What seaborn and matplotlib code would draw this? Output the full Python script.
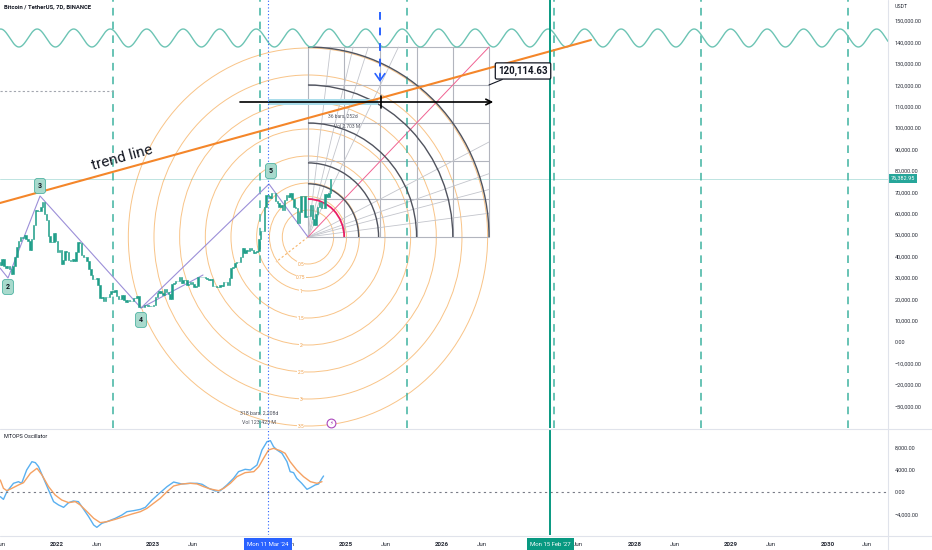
import numpy as np
import pandas as pd
import matplotlib
matplotlib.use("Agg")
import matplotlib.pyplot as plt
import matplotlib.transforms as mtransforms
from matplotlib.lines import Line2D
from matplotlib.patches import Arc, Ellipse
import seaborn as sns

# ===============================
# DATA
# ===============================

week_start = "2021-05-31"
first_open = 37.3
# weekly closes, thousand USDT
closes = [
    35.8, 39.0, 35.5, 34.7, 35.3, 34.3, 31.8, 35.4, 39.9, 44.6, 47.1, 49.0, 48.8, 49.9, 48.3, 47.3,
    43.2, 48.2, 54.9, 61.5, 61.3, 61.3, 63.3, 65.5, 59.7, 57.2, 49.4, 46.7, 46.7, 50.8, 47.3,
    41.9, 43.1, 36.3, 38.2, 42.4, 42.2, 38.4, 37.7, 38.8, 37.8, 42.2, 46.8, 46.4, 40.6, 39.7, 39.5,
    37.7, 34.3, 31.3, 29.4, 29.5, 29.9, 26.6, 20.6, 21.0, 19.3, 20.8, 20.8, 22.6, 23.6, 23.2, 24.3,
    21.5, 20.3, 19.9, 21.8, 19.4, 18.8, 19.4, 19.1, 19.1, 20.6, 20.6, 21.3, 16.3, 16.5, 16.5, 17.1,
    17.1, 16.8, 16.8, 16.6,
    17.1, 20.9, 22.7, 23.7, 22.9, 21.8, 24.6, 23.2, 22.4, 20.3, 26.9, 27.5, 28.5, 28.3, 30.3, 27.6,
    29.2, 28.9, 26.8, 27.1, 28.1, 27.1, 25.9, 26.3, 30.5, 30.2, 30.2, 30.3, 29.8, 29.3, 29.1, 29.4,
    26.1, 26.0, 25.8, 25.8, 26.5, 26.2, 27.9, 27.9, 26.8, 30.0, 34.5, 35.0, 37.1, 37.4, 37.4, 39.5,
    43.8, 41.4, 42.8, 42.3,
    43.9, 42.8, 41.6, 42.0, 42.6, 48.3, 52.1, 51.7, 63.1, 68.9, 68.4, 67.2, 69.7, 69.4, 65.7, 64.9,
    63.1, 64.0, 61.5, 66.3, 68.5, 67.8, 69.6, 66.7, 63.2, 62.7, 55.8, 60.8, 68.2, 68.2, 58.2, 58.7,
    58.9, 64.2, 57.3, 54.8, 60.0, 63.3, 65.6, 62.8, 62.8, 69.0, 67.9, 69.5, 76.38295,
]
last_price = 76382.95

# MTOPS oscillator (weeks after week_start, value)
osc_blue_weeks = [0, 1.8, 3.6, 7.2, 9.9, 11.7, 14.4, 17.2, 19, 20.8, 23.5, 26.2, 28.9, 31.6, 34.3,
                  37, 39.7, 42.4, 45.2, 47.9, 50.6, 52.4, 55.1, 57.8, 62.3, 65.9, 68.6, 72.2, 75.9,
                  78.6, 82.2, 85.8, 90.3, 93.9, 98.4, 102.9, 106.6, 109.3, 112.9, 116.5, 119.2,
                  122.8, 126.4, 129.1, 132.7, 135.5, 139.1, 141.8, 144.5, 146.3, 148.1, 149.9,
                  152.6, 155.3, 157.1, 158.9, 160.7, 163.4, 166.2, 168, 170.7, 172.5, 174.3, 175.2]
osc_blue = [-840, -1320, 60, 1560, 1850, 1560, 3950, 5440, 5260, 4550, 2450, 360, -1730, -2330,
            -2750, -1910, -1620, -1730, -3110, -4430, -5920, -6340, -5620, -5320, -4720, -4130,
            -3530, -3350, -3110, -2750, -1440, -360, 960, 1790, 1440, 1560, 1560, 1380, 660, 180,
            240, 1260, 2450, 3650, 4070, 3950, 4840, 7540, 9030, 9210, 8130, 7540, 6940, 5440,
            3650, 3470, 2450, 1560, 480, 780, 1260, 1440, 2450, 2870]
osc_orange_weeks = [0, 1.8, 3.6, 6.3, 9.9, 12.6, 16.3, 19.9, 22.6, 26.2, 29.8, 33.4, 37, 40.6, 43.3,
                    47, 50.6, 54.2, 57.8, 62.3, 66.8, 71.3, 75.9, 79.5, 83.1, 86.7, 90.3, 93.9,
                    98.4, 102.9, 106.6, 110.2, 113.8, 118.3, 121, 124.6, 128.2, 132.7, 137.3, 140,
                    142.7, 145.4, 148.1, 151.7, 154.4, 157.1, 160.7, 164.3, 168, 171.6, 174.3]
osc_orange = [2150, 660, 240, 660, 1260, 1670, 3350, 4250, 3050, 960, -540, -1440, -1910, -1730,
              -2330, -3530, -4720, -5500, -5320, -4900, -4430, -3950, -3530, -2930, -2030, -1140,
              60, 1080, 1440, 1560, 1440, 960, 540, 240, 660, 1560, 2750, 3470, 3650, 4550, 6040,
              7540, 7830, 7420, 6940, 5440, 3950, 2750, 1850, 1560, 1850]

price_ticks = [150000, 140000, 130000, 120000, 110000, 100000, 90000, 80000, 70000, 60000,
               50000, 40000, 30000, 20000, 10000, 0, -10000, -20000, -30000]
osc_ticks = [8000, 4000, 0, -4000]
# 2024 and 2027 sit under the date boxes in the reference, so they are not listed
time_tick_dates = ["2021-06-01", "2022-01-01", "2022-06-01", "2023-01-01", "2023-06-01",
                   "2024-06-01", "2025-01-01", "2025-06-01", "2026-01-01",
                   "2026-06-01", "2027-06-01", "2028-01-01", "2028-06-01",
                   "2029-01-01", "2029-06-01", "2030-01-01", "2030-06-01"]
time_tick_labels = ["Jun", "2022", "Jun", "2023", "Jun", "Jun", "2025", "Jun", "2026",
                    "Jun", "Jun", "2028", "Jun", "2029", "Jun", "2030", "Jun"]

# drawings (decimal year, price)
wave_labels = ["2", "3", "4", "5"]
wave_x = [2021.408, 2021.491, 2021.824, 2022.872, 2024.201, 2024.606]
wave_y = [34579, 29907, 68224, 15888, 73832, 49065]
wave_label_x = [2021.491, 2021.824, 2022.872, 2024.221]
wave_label_y = [25700, 72900, 10300, 79900]
trend_x = [2021.408, 2027.545]
trend_y = [64953, 141121]
cycle_lines = [2022.582, 2024.108, 2025.634, 2027.161, 2028.687, 2030.213]
gann_x = [2024.606, 2026.486]
gann_y = [49065, 137850]
gann_arcs = [0.28, 0.39, 0.6, 0.8, 1.0]
fib_levels = [0.5, 0.75, 1, 1.5, 2, 2.5, 3, 3.5]
fib_unit = (0.533, 25234)
sine_center, sine_amp, sine_period, sine_peak = 142056, 4200, 0.379, 2021.794
target_price = 120114.63
mar24 = "2024-03-11"
feb27 = "2027-02-15"

XMIN, XMAX = 2021.408, 2030.629
W, H = 932, 550


def to_year(d):
    d = pd.DatetimeIndex(pd.to_datetime(d))
    start = pd.to_datetime(d.year.astype(str) + "-01-01")
    days = np.where(d.is_leap_year, 366, 365)
    return np.asarray(d.year + (d - start).days / days, dtype=float)


def fmt(v):
    s = f"{abs(v):,.2f}"
    return ("\u2212" + s) if v < 0 else s


sns.set_style("white")
plt.rcParams["font.family"] = ["Roboto", "DejaVu Sans"]
TXT = "#2a2e39"

fig = plt.figure(figsize=(W / 100, H / 100), dpi=100)
ax = fig.add_axes([0, (H - 428) / H, 888 / W, 428 / H])
ax_osc = fig.add_axes([0, (H - 535) / H, 888 / W, 105 / H], sharex=ax)

# ===============================
# MAIN PANE
# ===============================

# fib circles
fx, fy = gann_x[0], gann_y[0]
for lv in fib_levels:
    ax.add_patch(Ellipse((fx, fy), 2 * lv * fib_unit[0], 2 * lv * fib_unit[1], fill=False,
                         ec="#f7b56a", lw=0.7, alpha=0.8, zorder=1))
    ax.text(fx - 0.075, fy - lv * fib_unit[1], f"{lv:g}", fontsize=3.5, color="#f0a04b",
            ha="center", va="center", zorder=2,
            bbox=dict(boxstyle="square,pad=0.05", fc="white", ec="none"))
ax.plot([fx, 2024.274], [fy, 37383], color="#f7b56a", lw=0.8, ls=(0, (2, 2)), zorder=1)

# gann box
gx0, gx1 = gann_x
gy0, gy1 = gann_y
dx, dy = gx1 - gx0, gy1 - gy0
for f in np.linspace(0, 1, 6):
    ax.plot([gx0 + f * dx] * 2, [gy0, gy1], color="#b2b5be", lw=0.8, zorder=2)
    ax.plot([gx0, gx1], [gy0 + f * dy] * 2, color="#b2b5be", lw=0.8, zorder=2)
for f in [1 / 8, 1 / 4, 1 / 3, 1 / 2]:
    ax.plot([gx0, gx0 + f * dx], [gy0, gy1], color="#c3c5cc", lw=0.6, zorder=2)
    ax.plot([gx0, gx1], [gy0, gy0 + f * dy], color="#c3c5cc", lw=0.6, zorder=2)
ax.plot([gx0, gx1], [gy0, gy1], color="#f06292", lw=0.7, zorder=2)
for f in gann_arcs:
    ax.add_patch(Arc((gx0, gy0), 2 * f * dx, 2 * f * dy, theta1=0, theta2=90,
                     ec="#50535e", lw=1.0, zorder=3))
ax.add_patch(Arc((gx0, gy0), 2 * 0.2 * dx, 2 * 0.2 * dy, theta1=0, theta2=90,
                 ec="#e91e63", lw=1.3, zorder=3))

# sine wave
sx = np.linspace(XMIN, XMAX, 2000)
ax.plot(sx, sine_center + sine_amp * np.cos(2 * np.pi * (sx - sine_peak) / sine_period),
        color="#6cc4b4", lw=1.0, zorder=3)

# cycle lines
for cx in cycle_lines:
    ax.axvline(cx, color="#3fb3a0", lw=1.1, dashes=(5, 4), zorder=2)

# dotted level on the left
ax.plot([XMIN, cycle_lines[0]], [117290, 117290], color="#a3a6af", lw=0.8, ls=(0, (2, 2)))

# current price line
ax.axhline(last_price, color="#26a69a", lw=0.7, alpha=0.3, zorder=1)

# measure band + arrow
ax.fill_between([2024.19, 2025.33], 110750, 113550, color="#a9dcea", zorder=3, lw=0)
ax.annotate("", xy=(2026.53, 112150), xytext=(2023.90, 112150),
            arrowprops=dict(arrowstyle="->", color="black", lw=1.2, shrinkA=0, shrinkB=0),
            zorder=6)
ax.plot([2025.364] * 2, [109350, 114950], color="black", lw=1.2, zorder=6)
ax.text(2024.97, 105600, "36 bars, 252d", fontsize=3.5, color="#50535e", ha="center",
        va="center", zorder=6)
ax.text(2025.01, 100900, "Vol 2.703 M", fontsize=3.5, color="#50535e", ha="center",
        va="center", zorder=6)

# blue dashed arrow
ax.plot([2025.354] * 2, [154200, 124500], color="#2962ff", lw=1.4, dashes=(4, 4), zorder=6)
ax.annotate("", xy=(2025.354, 121500), xytext=(2025.354, 125500),
            arrowprops=dict(arrowstyle="->,head_length=0.5,head_width=0.35", color="#2962ff",
                            lw=1.2, shrinkA=0, shrinkB=0), zorder=6)

# trend line
ax.plot(trend_x, trend_y, color="#f4862a", lw=1.5, zorder=4)
ax.text(2022.675, 85981, "trend line", fontsize=11, rotation=15.4, ha="center", va="center",
        color="#131722", rotation_mode="anchor", zorder=6)

# waves
ax.plot(wave_x, wave_y, color="#9c8fd8", lw=0.8, zorder=4)
ax.plot([wave_x[3], 2023.516], [wave_y[3], 31308], color="#9c8fd8", lw=0.8, zorder=4)
for lab, lx, ly in zip(wave_labels, wave_label_x, wave_label_y):
    ax.text(lx, ly, lab, fontsize=5, weight="bold", color="#131722", ha="center", va="center",
            zorder=8, bbox=dict(boxstyle="round,pad=0.5,rounding_size=0.4", fc="#a8dacd",
                                ec="#4fb3a2", lw=0.6))

# candles
dates = pd.date_range(week_start, periods=len(closes), freq="7D")
xs = to_year(dates)
c = np.array(closes) * 1000
o = np.r_[first_open * 1000, c[:-1]]
ax.bar(xs, np.abs(c - o), bottom=np.minimum(o, c), width=5.5 / 365.25, color="#1f9e89",
       edgecolor="#1f9e89", linewidth=0.4, zorder=7)

# callout
ax.annotate("120,114.63", xy=(gx1, target_price), xytext=(34, 14), textcoords="offset pixels",
            fontsize=7, weight="bold", color="#131722", ha="center", va="center", zorder=9,
            bbox=dict(boxstyle="round,pad=0.3,rounding_size=0.15", fc="white", ec="#131722",
                      lw=0.9),
            arrowprops=dict(arrowstyle="-", color="#131722", lw=0.8, shrinkA=0, shrinkB=0))

# bottom measure text + icon
ax.text(2024.10, -33200, "318 bars, 2,208d", fontsize=3.8, color="#50535e", ha="center",
        va="center", zorder=6)
ax.text(2024.10, -37400, "Vol 123.423 M", fontsize=3.8, color="#50535e", ha="center",
        va="center", zorder=6)
ax.scatter([2024.845], [-37850], s=40, facecolor="white", edgecolor="#ab47bc", lw=0.8, zorder=8)
ax.text(2024.845, -37850, "\u26a1", fontsize=4, color="#ab47bc", ha="center", va="center",
        zorder=9)

# vertical markers
mar_x = to_year([mar24])[0]
feb_x = to_year([feb27])[0]
for a in (ax, ax_osc):
    a.axvline(mar_x, color="#2962ff", lw=0.8, ls=(0, (1, 2)), zorder=6)
    a.axvline(feb_x, color="#089981", lw=1.4, zorder=6)

ax.set_xlim(XMIN, XMAX)
ax.set_ylim(-40187, 159813)

# price label on axis
trans = mtransforms.blended_transform_factory(ax.transAxes, ax.transData)
ax.text(1.0 + 3 / 888, last_price, "76,382.95", transform=trans, fontsize=4, color="white",
        ha="left", va="center", clip_on=False, zorder=10,
        bbox=dict(boxstyle="square,pad=0.3", fc="#26a69a", ec="none"))

# ===============================
# OSCILLATOR
# ===============================

osc_b = pd.DataFrame({"x": to_year(pd.Timestamp(week_start)
                                   + pd.to_timedelta(np.array(osc_blue_weeks) * 7, unit="D")),
                      "v": osc_blue})
osc_o = pd.DataFrame({"x": to_year(pd.Timestamp(week_start)
                                   + pd.to_timedelta(np.array(osc_orange_weeks) * 7, unit="D")),
                      "v": osc_orange})
sns.lineplot(data=osc_b, x="x", y="v", ax=ax_osc, color="#5ab0f0", lw=1.0, legend=False)
sns.lineplot(data=osc_o, x="x", y="v", ax=ax_osc, color="#f5a162", lw=1.0, legend=False)
ax_osc.axhline(0, color="#787b86", lw=0.8, ls=(0, (2, 3)))
ax_osc.set_ylim(-7714, 11123)
ax_osc.set_xlabel("")
ax_osc.set_ylabel("")

# ===============================
# AXES STYLE
# ===============================

for a, ticks in ((ax, price_ticks), (ax_osc, osc_ticks)):
    for s in a.spines.values():
        s.set_visible(False)
    a.yaxis.tick_right()
    a.set_yticks(ticks)
    a.set_yticklabels([fmt(v) for v in ticks])
    a.tick_params(axis="y", length=0, pad=5, labelsize=4, labelcolor=TXT)
    a.set_facecolor("white")

ax.tick_params(axis="x", length=0, labelbottom=False)
ax_osc.set_xticks(to_year(time_tick_dates))
ax_osc.set_xticklabels(time_tick_labels)
ax_osc.tick_params(axis="x", length=0, pad=5, labelsize=4.5, labelcolor=TXT)
for t in ax_osc.get_xticklabels():
    if t.get_text() != "Jun":
        t.set_fontweight("bold")

btrans = mtransforms.blended_transform_factory(ax_osc.transData, ax_osc.transAxes)
ax_osc.text(mar_x, -9 / 105, "Mon 11 Mar '24", transform=btrans, fontsize=4.3, color="white",
            ha="center", va="center", clip_on=False, zorder=10,
            bbox=dict(boxstyle="square,pad=0.55", fc="#2962ff", ec="none"))
ax_osc.text(feb_x, -9 / 105, "Mon 15 Feb '27", transform=btrans, fontsize=4.3, color="white",
            ha="center", va="center", clip_on=False, zorder=10,
            bbox=dict(boxstyle="square,pad=0.55", fc="#089981", ec="none"))

# pane separators
sep = "#e0e3eb"
fig.add_artist(Line2D([888 / W] * 2, [0, 1], color=sep, lw=0.8))
fig.add_artist(Line2D([0, 1], [(H - 429) / H] * 2, color=sep, lw=0.8))
fig.add_artist(Line2D([0, 1], [(H - 536) / H] * 2, color=sep, lw=0.8))

fig.text(4 / W, 1 - 7 / H, "Bitcoin / TetherUS, 7D, BINANCE", fontsize=4.2, weight="bold",
         color="#131722", va="center")
fig.text(895 / W, 1 - 6 / H, "USDT", fontsize=3.8, color=TXT, va="center")
fig.text(4 / W, 1 - 436 / H, "MTOPS Oscillator", fontsize=4, color="#131722", va="center")

fig.savefig("out.png", dpi=100, facecolor="white")
